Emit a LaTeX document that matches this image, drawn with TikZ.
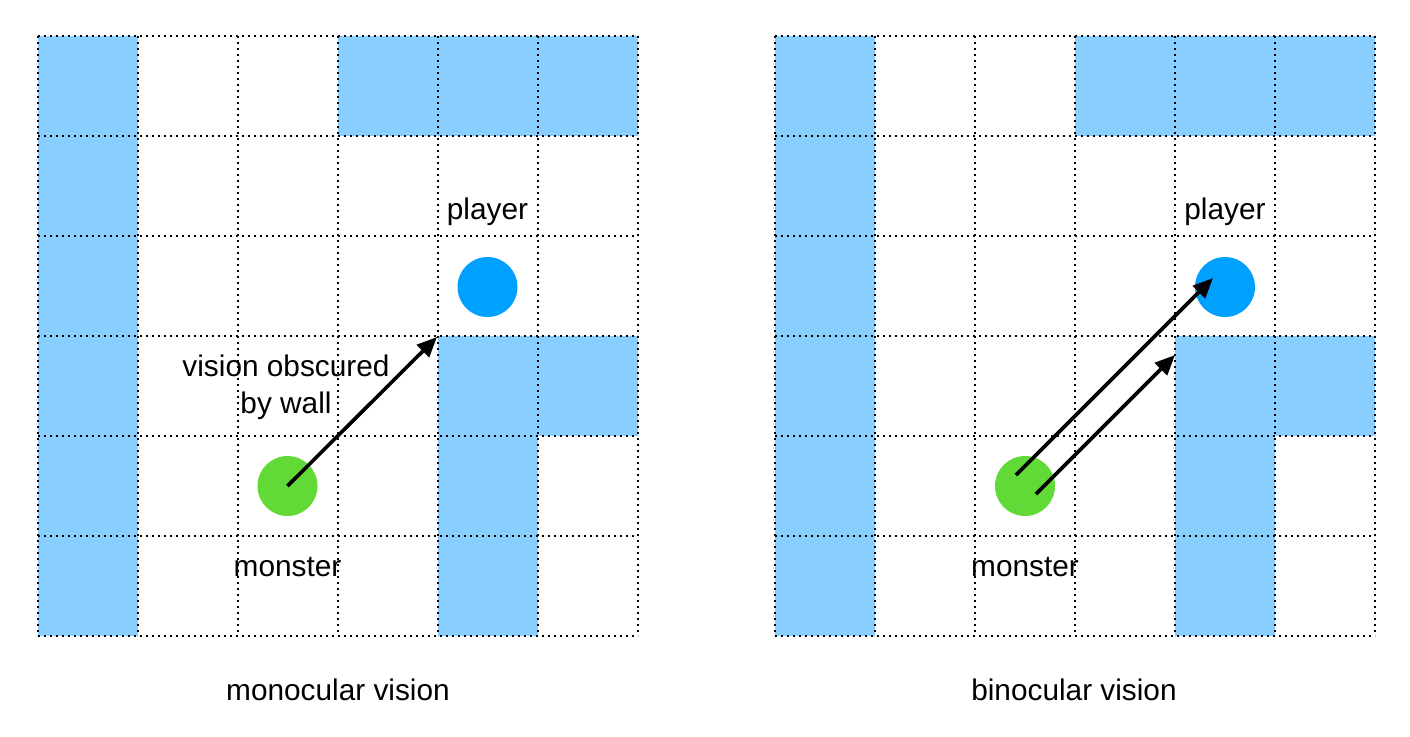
\documentclass[tikz,border=0pt]{standalone}
\usepackage{fontspec}
\setmainfont{Liberation Sans}
\usetikzlibrary{arrows.meta}
\definecolor{wallblue}{RGB}{136,206,255}
\definecolor{playerblue}{RGB}{0,160,255}
\definecolor{monstergreen}{RGB}{97,217,55}
\tikzset{
  wall/.style={fill=wallblue, draw=none},
  gridline/.style={line width=1pt, dash pattern=on 1pt off 2pt, black},
  playerdot/.style={circle, fill=playerblue, minimum size=30pt, inner sep=0pt},
  monsterdot/.style={circle, fill=monstergreen, minimum size=30pt, inner sep=0pt},
  label/.style={font=\fontsize{14.9}{18.5}\selectfont, align=center, inner sep=0pt},
  sight/.style={line width=1.8pt, -{Triangle[length=10pt,width=8.5pt]}},
}
\begin{document}
\begin{tikzpicture}[x=0.5pt,y=-0.5pt]
\useasboundingbox (0,0) rectangle (1410,736);
\foreach \ox/\nm in {37.5/L, 775/R}{
  \begin{scope}[shift={(\ox,36)}]
    % walls
    \fill[wall] (0,0) rectangle (100,600);
    \fill[wall] (300,0) rectangle (600,100);
    \fill[wall] (400,300) rectangle (600,400);
    \fill[wall] (400,400) rectangle (500,600);
    % grid
    \foreach \i in {0,...,6}{
      \draw[gridline] (\i*100,0) -- (\i*100,600);
      \draw[gridline] (0,\i*100) -- (600,\i*100);
    }
    \node[playerdot] (player\nm) at (450,251) {};
    \node[monsterdot] (monster\nm) at (250,450) {};
    \node[label] (playertxt\nm) at (450,176) {player};
    \node[label] (monstertxt\nm) at (250,531) {monster};
  \end{scope}
}
\node[label] (titleL) at (338,690) {monocular vision};
\node[label] (titleR) at (1074,690) {binocular vision};
\node[label] (obscured) at (286,387) {vision obscured\\by wall};
% arrows
\coordinate (corner) at (437,337);
\draw[sight] (monsterL.center) -- (corner);
\coordinate (startA) at (1016,475);
\coordinate (startB) at (1036,494);
\coordinate (endA) at (1213,278);
\coordinate (endB) at (1175,355);
\draw[sight] (startA) -- (endA);
\draw[sight] (startB) -- (endB);
\end{tikzpicture}
\end{document}
